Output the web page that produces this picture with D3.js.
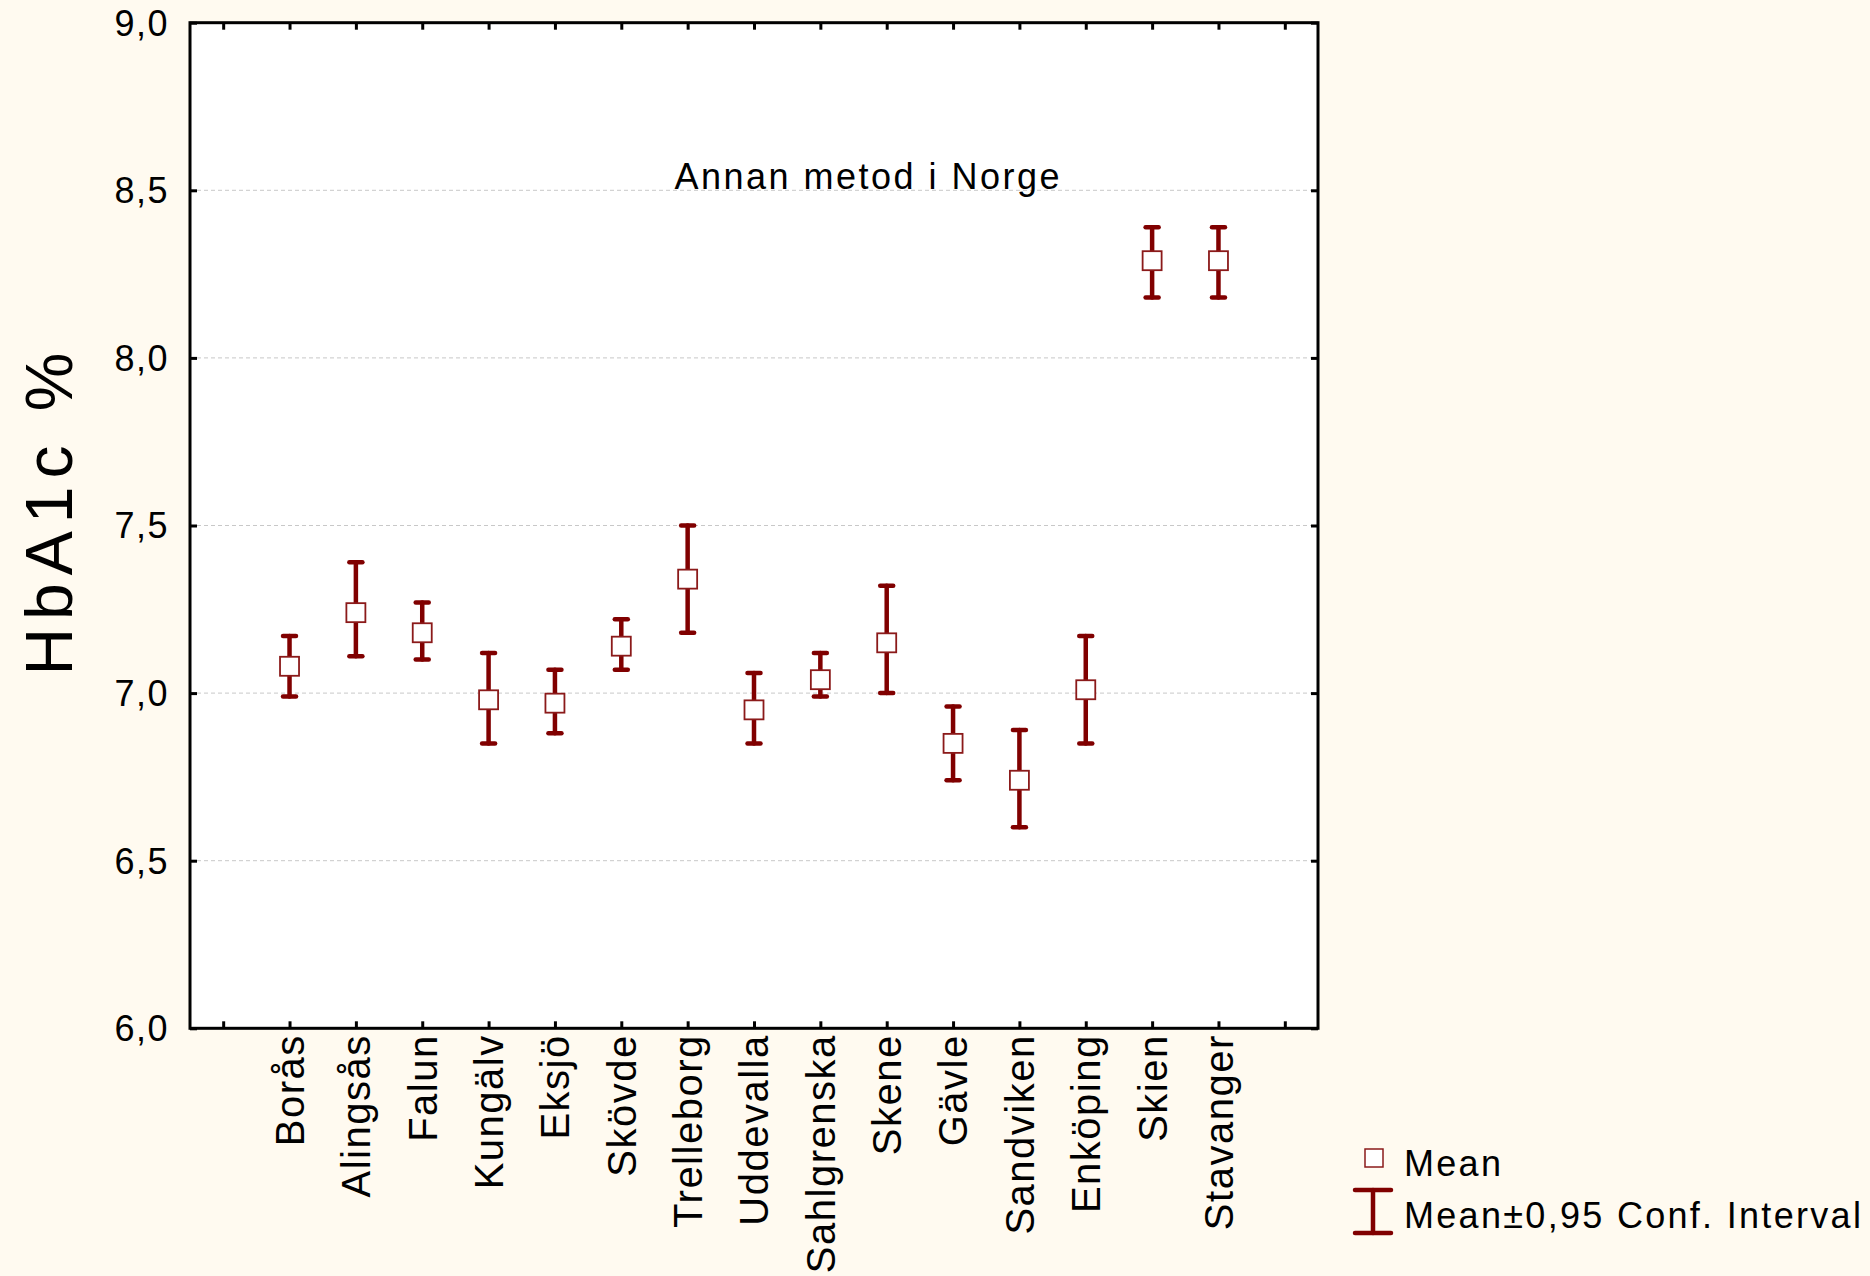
<!DOCTYPE html>
<html>
<head>
<meta charset="utf-8">
<script src="https://cdn.jsdelivr.net/npm/d3@7"></script>
<style>
  html, body { margin: 0; padding: 0; background: #FFFAF0; }
  svg { display: block; }
  text { font-family: "Liberation Sans", Arial, sans-serif; fill: #000; }
</style>
</head>
<body>
<svg id="chart" width="1870" height="1276"></svg>
<script>
// ---- data ----
const categories = ["Borås","Alingsås","Falun","Kungälv","Eksjö","Skövde","Trelleborg","Uddevalla","Sahlgrenska","Skene","Gävle","Sandviken","Enköping","Skien","Stavanger"];
const means = [7.08, 7.24, 7.18, 6.98, 6.97, 7.14, 7.34, 6.95, 7.04, 7.15, 6.85, 6.74, 7.01, 8.29, 8.29];
const lowerCI = [6.99, 7.11, 7.10, 6.85, 6.88, 7.07, 7.18, 6.85, 6.99, 7.00, 6.74, 6.60, 6.85, 8.18, 8.18];
const upperCI = [7.17, 7.39, 7.27, 7.12, 7.07, 7.22, 7.50, 7.06, 7.12, 7.32, 6.96, 6.89, 7.17, 8.39, 8.39];
const yTicks = [6.0, 6.5, 7.0, 7.5, 8.0, 8.5, 9.0];
const yTickLabels = ["6,0", "6,5", "7,0", "7,5", "8,0", "8,5", "9,0"];
const yTitle = "HbA1c %";
const annotation = "Annan metod i Norge";
const legendLabels = ["Mean", "Mean±0,95 Conf. Interval"];

// ---- layout ----
const L = 190, R = 1318, T = 22.7, B = 1028.3;
const red = "#800000";
const svg = d3.select("#chart");

const x = d3.scaleLinear().domain([-0.5, categories.length + 1.5]).range([L, R]);
const y = d3.scaleLinear().domain([6, 9]).range([B, T]);
const xTickPos = d3.range(0, categories.length + 2);

// plot area
svg.append("rect").attr("x", L).attr("y", T).attr("width", R - L).attr("height", B - T).attr("fill", "#fff");

// gridlines
svg.append("g").selectAll("line").data(yTicks.filter(v => v > 6 && v < 9)).join("line")
  .attr("x1", L).attr("x2", R).attr("y1", d => y(d)).attr("y2", d => y(d))
  .attr("stroke", "#c8c8c8").attr("stroke-width", 1).attr("stroke-dasharray", "4,3");

// inward ticks via axes
const tickLen = 7;
const axB = svg.append("g").attr("transform", `translate(0,${B})`)
  .call(d3.axisBottom(x).tickValues(xTickPos).tickSize(-tickLen).tickFormat(""));
const axT = svg.append("g").attr("transform", `translate(0,${T})`)
  .call(d3.axisTop(x).tickValues(xTickPos).tickSize(-tickLen).tickFormat(""));
const axL = svg.append("g").attr("transform", `translate(${L},0)`)
  .call(d3.axisLeft(y).tickValues(yTicks).tickSize(-tickLen).tickFormat(""));
const axR = svg.append("g").attr("transform", `translate(${R},0)`)
  .call(d3.axisRight(y).tickValues(yTicks).tickSize(-tickLen).tickFormat(""));
[axB, axT, axL, axR].forEach(a => {
  a.select(".domain").remove();
  a.selectAll(".tick line").attr("stroke", "#000").attr("stroke-width", 3);
});

// frame
svg.append("rect").attr("x", L).attr("y", T).attr("width", R - L).attr("height", B - T)
  .attr("fill", "none").attr("stroke", "#000").attr("stroke-width", 3);

// y tick labels
svg.append("g").selectAll("text").data(yTicks).join("text")
  .attr("x", 169).attr("y", d => y(d)).attr("dy", "0.36em")
  .attr("text-anchor", "end").attr("font-size", 36).attr("letter-spacing", 1.5)
  .text((d, i) => yTickLabels[i]);

// y title
svg.append("text").attr("transform", "translate(72,510) rotate(-90)")
  .attr("text-anchor", "middle").attr("font-size", 66).attr("letter-spacing", 8)
  .text(yTitle);

// x labels
svg.append("g").selectAll("text").data(categories).join("text")
  .attr("transform", (d, i) => `translate(${x(i + 1)},${B + 6}) rotate(-90)`)
  .attr("dy", "0.36em").attr("text-anchor", "end")
  .attr("font-size", 40).attr("letter-spacing", 1.5)
  .text(d => d);

// error bars
const capW = 6.5;
const eb = svg.append("g").attr("stroke", red).attr("stroke-width", 4.5).attr("stroke-linecap", "round");
categories.forEach((c, i) => {
  const cx = x(i + 1);
  eb.append("line").attr("x1", cx).attr("x2", cx).attr("y1", y(lowerCI[i])).attr("y2", y(upperCI[i]));
  eb.append("line").attr("x1", cx - capW).attr("x2", cx + capW).attr("y1", y(upperCI[i])).attr("y2", y(upperCI[i]));
  eb.append("line").attr("x1", cx - capW).attr("x2", cx + capW).attr("y1", y(lowerCI[i])).attr("y2", y(lowerCI[i]));
});

// mean markers
const ms = 19;
svg.append("g").selectAll("rect").data(means).join("rect")
  .attr("x", (d, i) => x(i + 1) - ms / 2).attr("y", d => y(d) - ms / 2)
  .attr("width", ms).attr("height", ms)
  .attr("fill", "#fff").attr("stroke", "#8b1a1a").attr("stroke-width", 1.8);

// annotation
svg.append("text").attr("x", x(6.8)).attr("y", y(8.5) - 1)
  .attr("font-size", 36).attr("letter-spacing", 2.5).text(annotation);

// legend
svg.append("rect").attr("x", 1374 - 9).attr("y", 1158 - 9).attr("width", 18).attr("height", 18)
  .attr("fill", "#fff").attr("stroke", "#8b1a1a").attr("stroke-width", 1.5);
svg.append("text").attr("x", 1404).attr("y", 1176).attr("font-size", 36).attr("letter-spacing", 2.3).text(legendLabels[0]);
const lg = svg.append("g").attr("stroke", red).attr("stroke-width", 4.5).attr("stroke-linecap", "round");
lg.append("line").attr("x1", 1373).attr("x2", 1373).attr("y1", 1190).attr("y2", 1233);
lg.append("line").attr("x1", 1355).attr("x2", 1391).attr("y1", 1190).attr("y2", 1190);
lg.append("line").attr("x1", 1355).attr("x2", 1391).attr("y1", 1233).attr("y2", 1233);
svg.append("text").attr("x", 1404).attr("y", 1228).attr("font-size", 36).attr("letter-spacing", 2.3).text(legendLabels[1]);
</script>
</body>
</html>
